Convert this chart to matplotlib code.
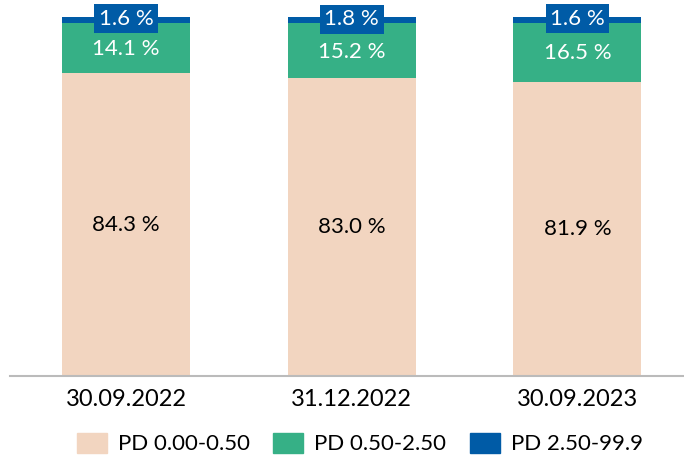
import numpy as np
import matplotlib.pyplot as plt
from matplotlib.patches import Patch

plt.rcParams['font.family'] = ['Lato', 'DejaVu Sans']

dates = ["30.09.2022", "31.12.2022", "30.09.2023"]
pd_low = [84.3, 83.0, 81.9]     # PD 0.00-0.50
pd_mid = [14.1, 15.2, 16.5]     # PD 0.50-2.50
pd_high = [1.6, 1.8, 1.6]       # PD 2.50-99.9
series_names = ["PD 0.00-0.50", "PD 0.50-2.50", "PD 2.50-99.9"]

c_low = "#F2D5C0"
c_mid = "#36B086"
c_high = "#005BA6"

fig = plt.figure(figsize=(6.84, 4.62), dpi=100)
ax = fig.add_axes([10 / 684, 86 / 462, 674 / 684, 359 / 462])

x = np.arange(len(dates))
w = 0.567
low = np.array(pd_low)
mid = np.array(pd_mid)
high = np.array(pd_high)

ax.bar(x, low, w, color=c_low)
ax.bar(x, mid, w, bottom=low, color=c_mid)
ax.bar(x, high, w, bottom=low + mid, color=c_high)

fs = 16
for i in range(len(x)):
    ax.text(x[i], low[i] / 2, f"{pd_low[i]:.1f} %", ha="center", va="center",
            fontsize=fs, color="black")
    ax.text(x[i], low[i] + mid[i] / 2 - 0.3, f"{pd_mid[i]:.1f} %", ha="center",
            va="center", fontsize=fs, color="white")
    # small top segment: label sits in a box of the segment colour
    ax.text(x[i], low[i] + mid[i] + high[i] / 2 + 0.3, f"{pd_high[i]:.1f} %",
            ha="center", va="center", fontsize=fs, color="white",
            bbox=dict(boxstyle="square,pad=0.2", fc=c_high, ec="none"))

ax.set_xlim(-0.514, 2.472)
ax.set_ylim(0, 100)
ax.set_xticks(x)
ax.set_xticklabels(dates, fontsize=17)
ax.tick_params(axis="x", length=0, pad=9)
ax.set_yticks([])
for s in ["top", "right", "left"]:
    ax.spines[s].set_visible(False)
ax.spines["bottom"].set_color("#BBBBBB")
ax.spines["bottom"].set_linewidth(1.5)

handles = [Patch(color=c) for c in (c_low, c_mid, c_high)]
fig.legend(handles, series_names, loc="lower center", ncol=3,
           bbox_to_anchor=(0.526, -0.012), frameon=False, fontsize=16,
           handlelength=1.35, handleheight=1.0, handletextpad=0.5,
           columnspacing=1.05, borderpad=0.1)

fig.savefig("out.png", dpi=100)
